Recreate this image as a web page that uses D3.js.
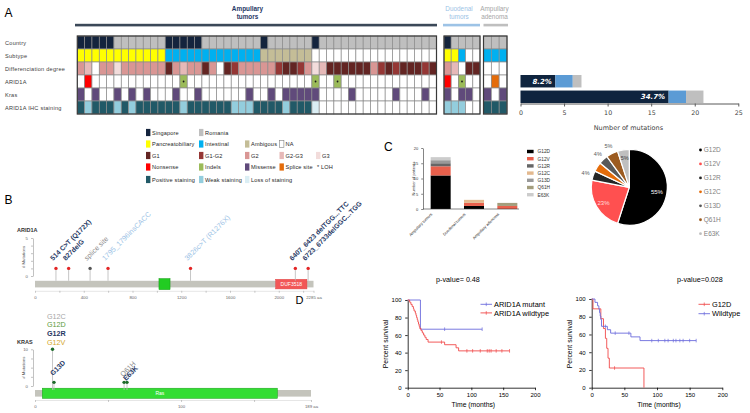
<!DOCTYPE html>
<html><head><meta charset="utf-8">
<script src="https://cdn.jsdelivr.net/npm/d3@7/dist/d3.min.js"></script>
<style>
html,body{margin:0;padding:0;background:#fff;}
svg{display:block;}
</style></head><body>
<script>
// ======================= DATA =======================
// Panel A – oncoprint (one character per patient, one string per cohort)
const rowNames = ["Country","Subtype","Differenciation degree","ARID1A","Kras","ARID1A IHC staining"];
const groupNames = ["Ampullary tumors","Duodenal tumors","Ampullary adenoma"];
const countryRow = ["SSSSS"+"RRRRRRR"+"SSSSS"+"RRRRRRRR"+"S"+"RRRRRR"+"S"+"RRRRRRRRRRRRRRRR","SRRRR","RRR"];
const subtypeRow = ["PPPPPPPPPPPP"+"IIIIIIIIIIIII"+"AAAAAAA"+"NNNNNNNNNNNNNNNNN","PPINN","III"];
const diffRow    = ["340335333333"+"13433"+"13012"+"33333"+"2112354"+"111111"+"32"+"1211121","34011","000"];
const aridRow    = ["_N"+"____________"+"L"+"_________________"+"L"+"__"+"L"+"_____________","N_L__","_S_"];
const krasRow    = ["M_M__M_M_M___M__M"+"______"+"M"+"__"+"M"+"_"+"MMMMM"+"____"+"M"+"_____"+"M"+"___"+"M"+"_","M_MM_","M_M"];
const ihcRow     = ["PW"+"PPP"+"W"+"P"+"W"+"PPPPPP"+"W"+"PPPPPP"+"WWW"+"PPPP"+"W"+"PPP"+"L"+"NNNNNNNNNNNNNNNN","WWWNN","PPP"];

// Panel A – mutation count bars
const barGenes = ["ARID1A","Kras"];
const barAmp = [4,17];
const barDuo = [2,2];
const barAde = [1,2];
const barPct = ["8.2%","34.7%"];
const mutTicks = [0,5,10,15,20,25];

// Panel B – lollipops
const aridPos = [172,276,452,599,1276,2136,2241];
const aridCnt = [1,1,1,1,1,1,1];
const aridLabels = ["514 C>T (Q172X)","827delG","splice site","1795_1796insCACC","3826c>T (R1276X)","6407_6423 delTGG...TTC","6723_6733delGGC...TGG"];
const aridCohort = ["amp","amp","ade","duo","duo","amp","amp"];
const aridDomains = [["",1017,1108],["DUF3518",1975,2231]];
const aridLength = 2285;
const krasPos = [12,13,61,63];
const krasCnt = [10,1,1,1];
const krasStack = ["G12C","G12D","G12R","G12V"];
const krasLabels = ["","G13D","Q61H","E63K"];
const krasDomains = [["Ras",5,166]];
const krasLength = 189;

// Panel C
const mutTypes = ["G12D","G12V","G12R","G12C","G13D","Q61H","E63K"];
const cohorts = ["Ampullary tumors","Duodenal tumors","Ampullary adenoma"];
const cntG12D = [11,1,0];
const cntG12V = [3,1,1];
const cntG12R = [1,0,0];
const cntG12C = [0,1,0];
const cntG13D = [1,0,0];
const cntQ61H = [0,0,1];
const cntE63K = [1,0,0];
const piePct = [55,23,4,4,4,5,5];
const pieText = ["55%","23%","4%","","4%","5%","5%"];

// Panel D – Kaplan-Meier
const aMutT = [0,20,117];            const aMutS = [100,66.7,66.7];       const aMutC = [58,117];
const aWtT = [0,3,5,7,9,10,12,13,14,15,16,17,18,19,21,23,25,27,29,32,58,76,80,160];
const aWtS = [100,97.5,95,92.5,90,87.5,85,82.5,80,77.5,75,72.5,70,67.5,65,62.5,60,57.5,55,52,49,45.5,42,42];
const aWtC = [53,93,102,114,125,128,131,139,148,160];
const gMutT = [0,2,14,18,21,23,25,27,80];   const gMutS = [100,88.9,77.8,66.7,55.6,44.4,33.3,22.2,0]; const gMutC = [35];
const gWtT = [0,5,9,11,12,13,14,15,24,29,60,74,160];
const gWtS = [100,96.2,92.3,88.5,84.6,80.8,76.9,69.2,65.4,61.5,57.3,53.1,53.1];
const gWtC = [21,36,57,92,102,112,117,125,129,135,140,150,160];
const kmTicksX = [0,50,100,150,200];
const kmTicksY = [0,20,40,60,80,100];

// ======================= STYLE / LAYOUT =======================
const SANS = '"Liberation Sans", Arial, Helvetica, sans-serif';
const VERD = '"DejaVu Sans", Verdana, sans-serif';
const NAVY = "#1f3864";
const rowColors = [
  {S:"#14243d",R:"#bfbfbf"},
  {P:"#ffff00",I:"#00b0f0",A:"#c4bd97",N:"#ffffff"},
  {"1":"#632523","2":"#953735","3":"#d99694","4":"#e6b9b8","5":"#f2dcdb","0":"#ffffff"},
  {_:"#ffffff",N:"#ff0000",L:"#9bbb59",S:"#e46c0a"},
  {_:"#ffffff",M:"#604a7b"},
  {P:"#215967",W:"#93cddd",L:"#dbeef4",N:"#ffffff"}
];
const blockX = [[77.3,436.5],[444,480],[483.5,507]];

const svg = d3.select("body").append("svg").attr("width",750).attr("height",413);

function txt(g,x,y,s,o={}){
  const t=g.append("text").attr("x",x).attr("y",y).text(s)
    .attr("font-size",o.size||6).attr("fill",o.fill||"#000")
    .attr("font-family",o.family||SANS);
  if(o.weight) t.attr("font-weight",o.weight);
  if(o.anchor) t.attr("text-anchor",o.anchor);
  if(o.style) t.attr("font-style",o.style);
  if(o.ls) t.attr("letter-spacing",o.ls);
  if(o.rotate!==undefined) t.attr("transform",`rotate(${o.rotate},${x},${y})`);
  return t;
}

// panel letters
txt(svg,4.5,16.5,"A",{size:12});
txt(svg,4.5,203.5,"B",{size:12});
txt(svg,384,150.5,"C",{size:12});
txt(svg,295.5,304,"D",{size:11});

// ---------- Panel A headers ----------
const headCx=[247.5,459,494.5];
const headFill=[NAVY,"#9dc3e6","#a6a6a6"];
const headBar=[[75,437,"#3b4858"],[443,480,"#9dc3e6"],[483.5,508,"#bfbfbf"]];
groupNames.forEach((n,i)=>{
  const parts=n.split(" ");
  parts.forEach((p,j)=>txt(svg,headCx[i],10.8+j*8.6,p,{size:6.4,fill:headFill[i],anchor:"middle",weight:i===0?"bold":null}));
  svg.append("rect").attr("x",headBar[i][0]).attr("y",23.8).attr("width",headBar[i][1]-headBar[i][0]).attr("height",2.6).attr("fill",headBar[i][2]);
});

// ---------- Oncoprint ----------
const rowsData=[countryRow,subtypeRow,diffRow,aridRow,krasRow,ihcRow];
const yRow=d3.scaleBand().domain(rowNames).range([36,114]);
rowNames.forEach((name,ri)=>{
  txt(svg,5,yRow(name)+yRow.bandwidth()/2+2,name,{size:5.6,fill:"#404040",ls:0.25});
  rowsData[ri].forEach((codes,gi)=>{
    const xs=d3.scaleBand().domain(d3.range(codes.length)).range(blockX[gi]);
    codes.split("").forEach((c,i)=>{
      svg.append("rect").attr("x",xs(i)).attr("y",yRow(name))
        .attr("width",xs.bandwidth()).attr("height",yRow.bandwidth())
        .attr("fill",rowColors[ri][c]).attr("stroke","#8c8c8c").attr("stroke-width",0.7);
      if(ri===3 && c==="L"){
        svg.append("circle").attr("cx",xs(i)+xs.bandwidth()/2).attr("cy",yRow(name)+yRow.bandwidth()/2)
          .attr("r",0.9).attr("fill","#1a1a1a");
      }
    });
  });
});
blockX.forEach(b=>svg.append("rect").attr("x",b[0]).attr("y",36).attr("width",b[1]-b[0]).attr("height",78)
  .attr("fill","none").attr("stroke","#3a3a3a").attr("stroke-width",1.2));

// ---------- Panel A legend ----------
const legColX=[146,199,245,279.5,316];
const legRowY=[132.5,144,155.5,167,179.5];
const legendItems=[
  ["Singapore","#14243d",0,0],["Romania","#bfbfbf",1,0],
  ["Pancreatobiliary","#ffff00",0,1],["Intestinal","#00b0f0",1,1],["Ambigous","#c4bd97",2,1],["NA","#ffffff",3,1],
  ["G1","#632523",0,2],["G1-G2","#953735",1,2],["G2","#d99694",2,2],["G2-G3","#e6b9b8",3,2],["G3","#f2dcdb",4,2],
  ["Nonsense","#ff0000",0,3],["Indels","#9bbb59",1,3],["Missense","#604a7b",2,3],["Splice site","#e46c0a",3,3],["* LOH",null,4,3],
  ["Positive staining","#215967",0,4],["Weak staining","#93cddd",1,4],["Loss of staining","#dbeef4",2,4]
];
legendItems.forEach(([lab,col,c,r])=>{
  const x=legColX[c], y=legRowY[r];
  if(col){
    svg.append("rect").attr("x",x).attr("y",y-3.6).attr("width",4.4).attr("height",7.2).attr("fill",col)
      .attr("stroke",col==="#ffffff"?"#7f7f7f":"none").attr("stroke-width",0.6);
    txt(svg,x+6,y+2,lab,{size:5.6,fill:"#262626",ls:0.15});
  } else {
    txt(svg,x+1,y+2,lab,{size:5.6,fill:"#262626",ls:0.15});
  }
});

// ---------- Panel A mutation bars ----------
const xMut=d3.scaleLinear().domain([0,25]).range([520.5,738.3]);
const yMut=d3.scaleBand().domain(barGenes).range([75,103]).paddingInner(0.2).paddingOuter(0);
barGenes.forEach((g,i)=>{
  const segs=[[0,barAmp[i],"#0f243e"],[barAmp[i],barAmp[i]+barDuo[i],"#5b9bd5"],[barAmp[i]+barDuo[i],barAmp[i]+barDuo[i]+barAde[i],"#bfbfbf"]];
  segs.forEach(s=>svg.append("rect").attr("x",xMut(s[0])).attr("y",yMut(g)).attr("width",xMut(s[1])-xMut(s[0]))
    .attr("height",yMut.bandwidth()).attr("fill",s[2]));
  txt(svg,xMut(barAmp[i])-3.5,yMut(g)+yMut.bandwidth()/2+2.6,barPct[i],{size:7,fill:"#fff",weight:"bold",style:"italic",anchor:"end",family:VERD});
});
const axMut=svg.append("g").attr("transform","translate(0,103.5)")
  .call(d3.axisBottom(xMut).tickValues(mutTicks).tickSize(3).tickSizeOuter(0));
axMut.selectAll("path,line").attr("stroke","#595959");
axMut.selectAll("text").attr("font-family",VERD).attr("font-size",6.3).attr("fill","#404040").attr("dy","0.9em");
txt(svg,(xMut(0)+xMut(25))/2-1,130,"Number of mutations",{size:6.5,fill:"#404040",anchor:"middle",family:VERD});

// ---------- Panel B lollipops ----------
function lolli(cfg){
  const x=d3.scaleLinear().domain([0,cfg.len]).range([35,cfg.xEnd]);
  const y=d3.scaleLinear().domain([0,cfg.ymax]).range([cfg.y0,cfg.y1]);
  const ay=svg.append("g").attr("transform","translate(33,0)")
    .call(d3.axisLeft(y).tickValues(cfg.yTicks).tickSize(2).tickSizeOuter(0).tickFormat(d=>(d===0||d===cfg.ymax)?d:""));
  ay.selectAll("path,line").attr("stroke","#999").attr("stroke-width",0.6);
  ay.selectAll("text").attr("font-size",4.3).attr("fill","#666").attr("font-family",SANS);
  txt(svg,25,(cfg.y0+cfg.y1)/2,"# Mutations",{size:4.3,fill:"#555",anchor:"middle",rotate:-90});
  txt(svg,17,cfg.titleY,cfg.title,{size:5.5,weight:"bold",fill:"#333"});
  svg.append("rect").attr("x",x(0)).attr("y",cfg.barY).attr("width",x(cfg.len)-x(0)).attr("height",6.6).attr("fill","#c4c4bc");
  cfg.domains.forEach(([nm,s,e],k)=>{
    svg.append("rect").attr("x",x(s)).attr("y",cfg.barY+cfg.domOff[k]).attr("width",x(e)-x(s))
      .attr("height",6.6-2*cfg.domOff[k]).attr("fill",cfg.domCol[k]).attr("stroke",cfg.domStroke[k]).attr("stroke-width",0.5);
    if(nm) txt(svg,(x(s)+x(e))/2,cfg.barY+5.2,nm,{size:5,fill:"#fff",anchor:"middle"});
  });
  const ax=svg.append("g").attr("transform",`translate(0,${cfg.barY+10})`)
    .call(d3.axisBottom(x).tickValues(cfg.xTicks).tickSize(2).tickSizeOuter(0)
      .tickFormat(d=>cfg.xLab.includes(d)?(d===cfg.len?d+" aa":d):""));
  ax.select("path").attr("stroke","#ccc").attr("stroke-width",0.5);
  ax.selectAll("line").attr("stroke","#999").attr("stroke-width",0.5);
  ax.selectAll("text").attr("font-size",4.3).attr("fill","#666").attr("font-family",SANS);
  cfg.pos.forEach((p,i)=>{
    svg.append("line").attr("x1",x(p)).attr("x2",x(p)).attr("y1",y(cfg.cnt[i])).attr("y2",cfg.barY)
      .attr("stroke","#b8b8b8").attr("stroke-width",0.8);
    svg.append("circle").attr("cx",x(p)).attr("cy",y(cfg.cnt[i])).attr("r",1.7).attr("fill",cfg.dotCol(i));
  });
  return {x,y};
}
const coh={amp:{fill:NAVY,weight:"bold",size:6.9},duo:{fill:"#9dc3e6",weight:null,size:7.2},ade:{fill:"#8c8c8c",weight:null,size:7}};
const A1=lolli({len:aridLength,xEnd:313.5,ymax:5,y0:276,y1:238,yTicks:[0,1,2,3,4,5],title:"ARID1A",titleY:232,
  barY:280.8,domains:aridDomains,domOff:[-2.2,-1.5],domCol:["#22cc22","#f25757"],domStroke:["#119911","#e04444"],
  xTicks:[0,200,400,600,800,1000,1200,1400,1600,1800,2000,2200,2285],xLab:[0,400,800,1200,1600,2000,2285],
  pos:aridPos,cnt:aridCnt,dotCol:i=>aridCohort[i]==="ade"?"#555555":"#e32626"});
aridLabels.forEach((l,i)=>{
  const s=coh[aridCohort[i]];
  txt(svg,A1.x(aridPos[i])-3,261,l,{size:s.size,fill:s.fill,weight:s.weight,rotate:-45});
});
const K1=lolli({len:krasLength,xEnd:311,ymax:10,y0:386,y1:349.3,yTicks:[0,2.5,5,7.5,10],title:"KRAS",titleY:343.5,
  barY:390,domains:krasDomains,domOff:[-1.8],domCol:["#33dd33"],domStroke:["#1a9e1a"],
  xTicks:[0,50,100,150,189],xLab:[0,100,189],
  pos:krasPos,cnt:krasCnt,dotCol:i=>"#1d6b2a"});
const stackCol=["#a6a6a6","#5b9b3c",NAVY,"#d4a62a"];
krasStack.forEach((l,j)=>txt(svg,K1.x(krasPos[0])-5.5,318.5+j*8.9,l,{size:7.2,fill:stackCol[j],weight:j===2?"bold":null}));
const kLabSty=[null,{fill:NAVY,weight:"bold",dy:376},{fill:"#8c8c8c",weight:null,dy:377},{fill:NAVY,weight:"bold",dy:381}];
krasLabels.forEach((l,i)=>{ if(!l) return;
  const s=kLabSty[i];
  txt(svg,K1.x(krasPos[i])-1,s.dy,l,{size:7,fill:s.fill,weight:s.weight,rotate:-45});
});

// ---------- Panel C stacked bars ----------
const cSeries=[cntG12D,cntG12V,cntG12R,cntG12C,cntG13D,cntQ61H,cntE63K];
const cCol=["#000000","#e8604c","#666666","#e3b98f","#999999","#a39d7c","#cccccc"];
const tableC=cohorts.map((c,ci)=>{const o={cohort:c}; mutTypes.forEach((m,mi)=>o[m]=cSeries[mi][ci]); return o;});
const stackC=d3.stack().keys(mutTypes)(tableC);
const xC=d3.scaleBand().domain(cohorts).range([429,519]).paddingInner(0.4).paddingOuter(0.05);
const yC=d3.scaleLinear().domain([0,20]).range([209,148]);
stackC.forEach((layer,li)=>layer.forEach((d,ci)=>{
  if(d[1]-d[0]<=0) return;
  svg.append("rect").attr("x",xC(cohorts[ci])).attr("y",yC(d[1])).attr("width",xC.bandwidth())
    .attr("height",yC(d[0])-yC(d[1])).attr("fill",cCol[li]);
}));
const ayC=svg.append("g").attr("transform","translate(423,0)")
  .call(d3.axisLeft(yC).tickValues([0,5,10,15,20]).tickSize(1.8).tickSizeOuter(0));
ayC.selectAll("path,line").attr("stroke","#333").attr("stroke-width",0.6);
ayC.selectAll("text").attr("font-size",4).attr("fill","#333").attr("font-family",SANS);
svg.append("line").attr("x1",423).attr("x2",519).attr("y1",209).attr("y2",209).attr("stroke","#333").attr("stroke-width",0.6);
txt(svg,414.5,178.5,"Number of patients",{size:4,fill:"#333",anchor:"middle",rotate:-90});
cohorts.forEach(c=>{
  const xc=xC(c)+xC.bandwidth()/2;
  txt(svg,xc-8,214.5,c,{size:4,fill:"#333",anchor:"end",rotate:-45});
});
mutTypes.forEach((m,i)=>{
  svg.append("rect").attr("x",527).attr("y",149.8+i*7.2).attr("width",6.6).attr("height",3.4).attr("fill",cCol[i]);
  txt(svg,537.5,153.3+i*7.2,m,{size:4.8,fill:"#333"});
});

// ---------- Panel C pie ----------
const pieCol=["#000000","#ff5050","#262626","#e46c0a","#595959","#9c5b20","#bfbfbf"];
const pieCx=629.3, pieCy=187.3, pieR=38;
const arcs=d3.pie().sort(null).value(d=>d)(piePct);
const arcG=d3.arc().innerRadius(0).outerRadius(pieR);
const gPie=svg.append("g").attr("transform",`translate(${pieCx},${pieCy})`);
gPie.selectAll("path").data(arcs).join("path").attr("d",arcG)
  .attr("fill",(d,i)=>pieCol[i]).attr("stroke","#fff").attr("stroke-width",1.2);
const labR=[28,30,46,46,46,46,30];
const labCol=["#ffffff","#ffdede","#595959","#595959","#595959","#595959","#404040"];
arcs.forEach((a,i)=>{
  if(!pieText[i]) return;
  const m=(a.startAngle+a.endAngle)/2;
  txt(gPie,labR[i]*Math.sin(m),-labR[i]*Math.cos(m)+2,pieText[i],{size:i<2?6:5.5,fill:labCol[i],anchor:"middle"});
});
mutTypes.forEach((m,i)=>{
  svg.append("circle").attr("cx",700.5).attr("cy",150+i*13.95).attr("r",1.4).attr("fill",pieCol[i]);
  txt(svg,703.8,152.3+i*13.95,m,{size:6.5,fill:"#7f7f7f"});
});

// ---------- Panel D Kaplan-Meier ----------
function survAt(T,S,t){let s=S[0];for(let i=0;i<T.length;i++){if(T[i]<=t)s=S[i];}return s;}
function km(cfg){
  const x=d3.scaleLinear().domain([0,200]).range(cfg.xr);
  const y=d3.scaleLinear().domain([0,100]).range([387.7,cfg.yTop]);
  const ax=svg.append("g").attr("transform","translate(0,387.7)")
    .call(d3.axisBottom(x).tickValues(kmTicksX).tickSize(2.5).tickSizeOuter(0));
  const ay=svg.append("g").attr("transform",`translate(${cfg.xr[0]},0)`)
    .call(d3.axisLeft(y).tickValues(kmTicksY).tickSize(2.5).tickSizeOuter(0));
  [ax,ay].forEach(a=>{a.selectAll("path,line").attr("stroke","#000").attr("stroke-width",0.8);
    a.selectAll("text").attr("font-size",6).attr("font-family",SANS).attr("fill","#000");});
  ay.selectAll("text").attr("dx","-0.1em");
  txt(svg,(cfg.xr[0]+cfg.xr[1])/2+2,407,"Time (months)",{size:6.8,anchor:"middle"});
  txt(svg,cfg.xr[0]-19.5,344,"Percent survival",{size:6.8,anchor:"middle",rotate:-90});
  const line=d3.line().x(d=>x(d[0])).y(d=>y(d[1])).curve(d3.curveStepAfter);
  cfg.series.forEach(s=>{
    const pts=s.T.map((t,i)=>[t,s.S[i]]);
    svg.append("path").attr("d",line(pts)).attr("fill","none").attr("stroke",s.col).attr("stroke-width",0.9);
    s.C.forEach(c=>{const v=survAt(s.T,s.S,c);
      svg.append("line").attr("x1",x(c)).attr("x2",x(c)).attr("y1",y(v)-1.8).attr("y2",y(v)+1.8).attr("stroke",s.col).attr("stroke-width",0.7);});
  });
  cfg.series.forEach((s,i)=>{
    const ly=cfg.legY+i*cfg.legDy;
    svg.append("line").attr("x1",cfg.legX).attr("x2",cfg.legX+11.5).attr("y1",ly).attr("y2",ly).attr("stroke",s.col).attr("stroke-width",0.9);
    svg.append("line").attr("x1",cfg.legX+5.75).attr("x2",cfg.legX+5.75).attr("y1",ly-1.8).attr("y2",ly+1.8).attr("stroke",s.col).attr("stroke-width",0.7);
    txt(svg,cfg.legX+13.5,ly+2.6,s.name,{size:7.4});
  });
  txt(svg,cfg.pX,cfg.pY,cfg.p,{size:7.2,anchor:"middle"});
}
km({xr:[407.7,535],yTop:300,legX:480.5,legY:304.3,legDy:8.6,pX:458,pY:282,p:"p-value= 0.48",
  series:[{name:"ARID1A mutant",T:aMutT,S:aMutS,C:aMutC,col:"#6b6bdc"},{name:"ARID1A wildtype",T:aWtT,S:aWtS,C:aWtC,col:"#f04848"}]});
km({xr:[591.7,722.3],yTop:299,legX:698.5,legY:304.3,legDy:9.4,pX:700,pY:282,p:"p-value=0.028",
  series:[{name:"G12D",T:gMutT,S:gMutS,C:gMutC,col:"#f04848"},{name:"Wildtype",T:gWtT,S:gWtS,C:gWtC,col:"#6b6bdc"}]});
</script></body></html>
